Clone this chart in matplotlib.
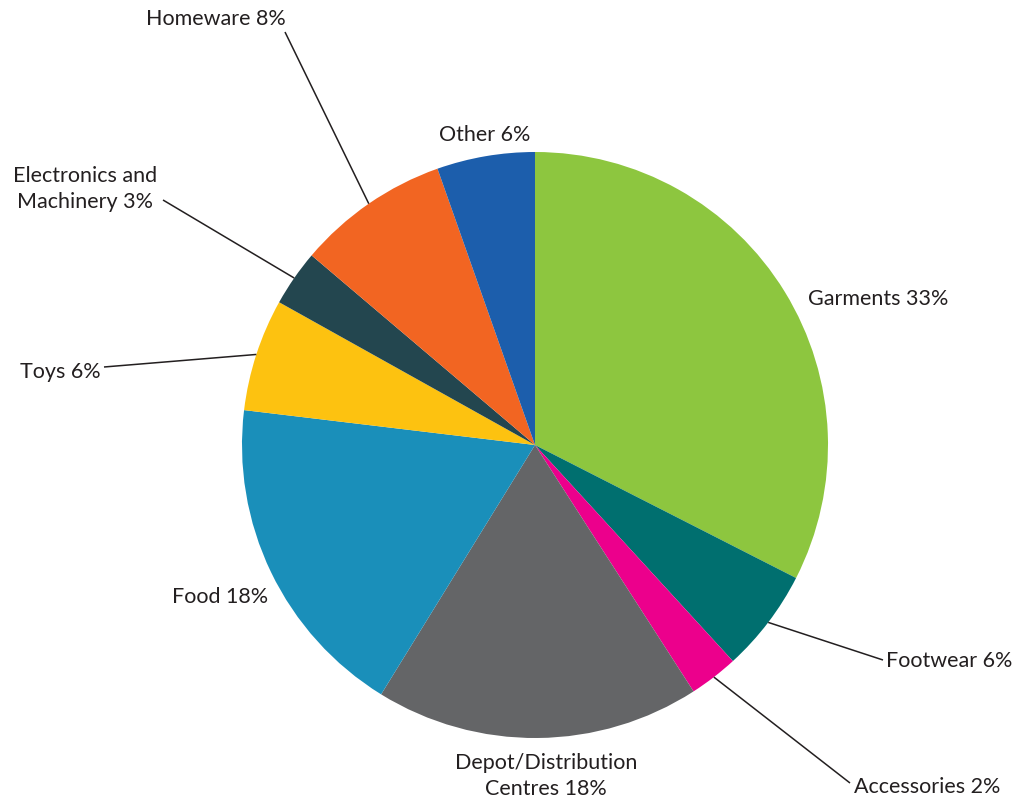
import matplotlib.pyplot as plt
import numpy as np

W, H = 1014, 801

# shares (labels carry the rounded figures)
sectors = ['Garments', 'Footwear', 'Accessories', 'Depot/Distribution',
           'Food', 'Toys', 'Electronics and Machinery', 'Homeware', 'Other']
shares = [32.5, 5.7, 2.7, 17.9, 18.1, 6.2, 3.1, 8.4, 5.4]
labels = ['Garments 33%', 'Footwear 6%', 'Accessories 2%',
          'Depot/Distribution\nCentres 18%', 'Food 18%', 'Toys 6%',
          'Electronics and\nMachinery 3%', 'Homeware 8%', 'Other 6%']
colors = ['#8dc63f', '#006f6f', '#ec008c', '#646567', '#1a8fba',
          '#fdc210', '#23464f', '#f26522', '#1c5eac']

# label placement in pixel coords (x, y from top), ha, and leader start (or None)
label_pos = [
    ((808, 299), 'left', None),
    ((886, 661), 'left', (883, 660)),
    ((854, 787), 'left', (850, 783)),
    ((546, 776), 'center', None),
    ((220, 597), 'center', None),
    ((101, 372), 'right', (104, 367)),
    ((85, 189), 'center', (163, 200)),
    ((216, 19), 'center', (285, 32)),
    ((485, 135), 'center', None),
]

cx, cy, r = 535, 445, 293

plt.rcParams['font.family'] = ['Lato', 'DejaVu Sans']

fig = plt.figure(figsize=(W / 100, H / 100), dpi=100)
ax = fig.add_axes([0, 0, 1, 1])

wedges, _ = ax.pie(shares, colors=colors, startangle=90, counterclock=False,
                   radius=r, center=(cx, H - cy),
                   wedgeprops=dict(linewidth=0))
ax.set_xlim(0, W)
ax.set_ylim(0, H)
ax.set_aspect('equal')
ax.axis('off')

txt_col = '#231f20'
for w, lab, (pos, ha, lead) in zip(wedges, labels, label_pos):
    ax.text(pos[0], H - pos[1], lab, ha=ha, va='center', fontsize=15.5,
            color=txt_col, linespacing=1.42)
    if lead is not None:
        ang = np.deg2rad((w.theta1 + w.theta2) / 2)
        ex = cx + r * np.cos(ang)
        ey = (H - cy) + r * np.sin(ang)
        ax.plot([lead[0], ex], [H - lead[1], ey], color=txt_col, lw=1.1,
                solid_capstyle='butt')

fig.savefig('out.png', dpi=100)
